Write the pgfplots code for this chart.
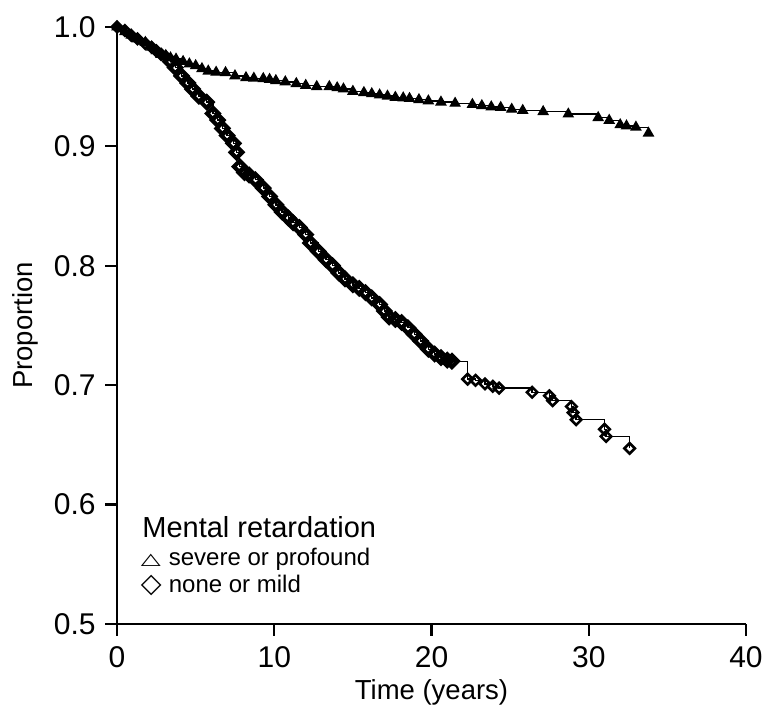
\documentclass[border={9pt 0pt 1pt 13pt}]{standalone}
\usepackage{fontspec}
\setmainfont{Liberation Sans}
\newfontfamily\symfont{DejaVu Sans}
\usepackage{pgfplots}
\pgfplotsset{compat=1.18}

% severe or profound
\pgfplotstableread{
t p
0 1.0
0.5 0.996
0.9 0.993
1.3 0.990
1.8 0.987
2.2 0.983
2.5 0.980
2.8 0.977
3.1 0.976
3.4 0.974
3.75 0.973
4.2 0.971
4.6 0.969
5.0 0.9675
5.4 0.965
5.8 0.963
6.3 0.962
6.9 0.9617
7.5 0.959
8.2 0.9575
8.7 0.957
9.3 0.9567
9.7 0.956
10.1 0.955
10.7 0.954
11.4 0.9525
12.0 0.951
12.7 0.950
13.5 0.950
14.0 0.949
14.4 0.948
15.0 0.946
15.7 0.945
16.2 0.944
16.7 0.943
17.2 0.942
17.7 0.941
18.2 0.9405
18.6 0.940
19.2 0.939
19.8 0.938
20.6 0.937
21.5 0.936
22.6 0.935
23.2 0.934
23.8 0.933
24.4 0.9325
25.1 0.931
25.8 0.930
27.1 0.929
28.7 0.927
30.6 0.924
31.3 0.9217
32.0 0.918
32.4 0.917
33.0 0.916
33.8 0.911
}\severe

% none or mild
\pgfplotstableread{
t p
0 1.0
0.5 0.997
0.9 0.993
1.3 0.990
1.8 0.986
2.2 0.983
2.5 0.980
2.8 0.977
3.1 0.975
3.4 0.971
3.7 0.966
4.1 0.959
4.5 0.953
4.8 0.948
5.2 0.942
5.7 0.937
6.1 0.9275
6.4 0.922
6.7 0.915
7.0 0.909
7.4 0.9025
7.6 0.895
7.8 0.883
8.1 0.878
8.4 0.876
8.8 0.872
9.3 0.865
9.7 0.858
10.1 0.851
10.5 0.845
10.9 0.840
11.2 0.836
11.6 0.832
12.0 0.826
12.3 0.819
12.8 0.812
13.3 0.805
13.7 0.800
14.1 0.794
14.5 0.789
15.0 0.784
15.4 0.781
15.8 0.7775
16.2 0.773
16.7 0.7675
17.0 0.762
17.3 0.757
17.7 0.755
18.1 0.7525
18.5 0.748
18.9 0.7425
19.3 0.737
19.8 0.730
20.2 0.726
20.6 0.723
21.0 0.721
21.3 0.720
22.3 0.705
22.8 0.704
23.4 0.701
23.9 0.699
24.3 0.6975
26.4 0.694
27.5 0.691
27.7 0.687
28.9 0.682
29.0 0.677
29.2 0.671
31.0 0.663
31.1 0.657
32.6 0.647
}\mild

\begin{document}
\begin{tikzpicture}
\begin{axis}[
    scale only axis,
    width=629pt, height=597pt,
    xmin=0, xmax=40,
    ymin=0.5, ymax=1.0,
    axis lines=left,
    axis line style={-, line width=2.2pt},
    xtick={0,10,20,30,40},
    ytick={0.5,0.6,0.7,0.8,0.9,1.0},
    yticklabel style={xshift=-6pt, /pgf/number format/.cd, fixed, fixed zerofill, precision=1},
    xticklabel style={yshift=-7pt},
    /pgf/number format/assume math mode=true,
    tick align=outside,
    major tick length=12pt,
    tick style={line width=2.2pt, black},
    minor tick num=0,
    ticklabel style={font=\fontsize{30}{30}\selectfont},
    xlabel={Time (years)},
    xlabel style={yshift=-5pt},
    ylabel={Proportion},
    ylabel style={yshift=9pt},
    label style={font=\fontsize{27.5}{27.5}\selectfont},
    clip=false,
]

\addplot[const plot, black, line width=1.4pt,
    mark=square, mark size=3.7pt,
    mark options={solid, rotate=45, line width=2.6pt}]
    table[x=t, y=p] {\mild};

% dense stretch of censoring marks: heavier
\addplot[only marks, black, restrict x to domain=3.2:21.4,
    mark=square, mark size=4.1pt,
    mark options={solid, rotate=45, line width=4.2pt}]
    table[x=t, y=p] {\mild};

\addplot[const plot, black, line width=1.4pt,
    mark=triangle*, mark size=5.4pt,
    mark options={solid, fill=black}]
    table[x=t, y=p] {\severe};

\node[anchor=base west, inner sep=0pt, font=\fontsize{29}{29}\selectfont]
    at (axis cs:1.6,0.5724) {Mental retardation};
\node[anchor=base west, inner sep=0pt, font=\fontsize{24}{24}\selectfont]
    at (axis cs:1.5,0.549) {\makebox[28pt][l]{\symfont\fontsize{26}{26}\selectfont\raisebox{1pt}{\scalebox{1}[0.62]{△}}}severe or profound};
\node[anchor=base west, inner sep=0pt, font=\fontsize{24}{24}\selectfont]
    at (axis cs:1.5,0.5264) {\makebox[28pt][l]{\symfont\fontsize{27}{27}\selectfont ◇}none or mild};
\end{axis}
\end{tikzpicture}
\end{document}
